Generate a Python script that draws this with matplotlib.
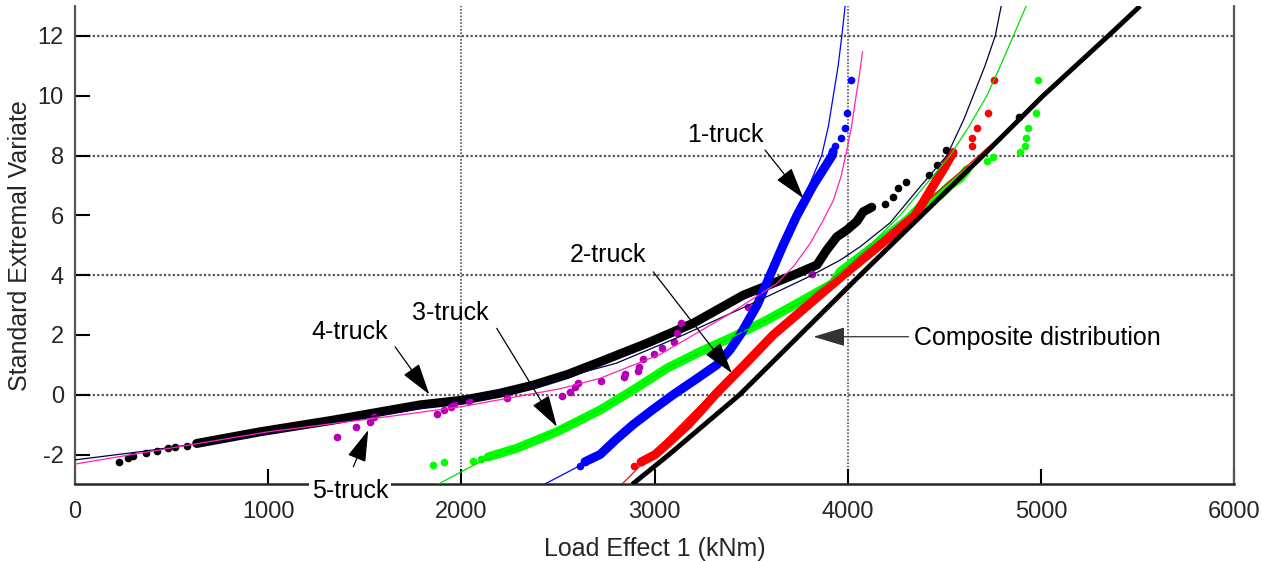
import matplotlib.pyplot as plt
import numpy as np

plt.rcParams['font.family'] = ['Liberation Sans', 'DejaVu Sans']
plt.rcParams['axes.unicode_minus'] = False

# 1-truck (blue): dense band + sparse tail, and fitted curve
truck1_x = [2640, 2718, 2800, 2889, 2990, 3096, 3210, 3322, 3390, 3443, 3531, 3598,
            3665, 3737, 3821, 3870, 3919, 3924]
truck1_y = [-2.24, -2.0, -1.5, -1.0, -0.5, 0.0, 0.5, 1.0, 1.5, 2.0, 3.0, 4.0,
            5.0, 6.0, 7.0, 7.5, 8.0, 8.13]
truck1_tail_x = [2614, 2640, 3934, 3966, 3986, 3998, 4017]
truck1_tail_y = [-2.37, -2.24, 8.33, 8.6, 8.92, 9.43, 10.52]
fit1_x = [2428, 2614, 2750, 2890, 3000, 3100, 3220, 3330, 3450, 3520, 3590, 3665,
          3730, 3800, 3865, 3900, 3925, 3950, 3969, 3986]
fit1_y = [-3, -2.37, -1.75, -1.0, -0.5, 0.0, 0.5, 1.0, 2.0, 3.0, 4.0, 5.0,
          6.0, 7.0, 8.0, 9.0, 10.0, 11.0, 12.0, 13.0]

# 2-truck (red)
truck2_x = [2930, 3003, 3090, 3174, 3245, 3313, 3465, 3614, 3795, 3976, 4165, 4349,
            4443, 4500, 4545]
truck2_y = [-2.25, -2.0, -1.5, -1.0, -0.5, 0.0, 1.0, 2.0, 3.0, 4.0, 5.0, 6.0,
            7.0, 7.6, 8.1]
truck2_tail_x = [2894, 2930, 4642, 4642, 4668, 4727, 4758]
truck2_tail_y = [-2.39, -2.25, 8.32, 8.57, 8.91, 9.43, 10.52]
fit2_x = [2830, 3290, 3630, 3990, 4380, 4789]
fit2_y = [-3, 0.0, 2.0, 4.0, 6.3, 8.63]

# 3-truck (green)
truck3_x = [2139, 2287, 2494, 2718, 2889, 3065, 3236, 3407, 3582, 3753, 3924,
            3960, 4131, 4306, 4409, 4478, 4530, 4582, 4616]
truck3_y = [-2.08, -1.79, -1.24, -0.51, 0.16, 0.89, 1.44, 1.94, 2.5, 3.11, 3.73,
            4.11, 4.95, 5.84, 6.51, 6.68, 7.01, 7.24, 7.52]
truck3_tail_x = [1852, 1911, 2059, 2102, 4720, 4753, 4892, 4918, 4923, 4932, 4975, 4982]
truck3_tail_y = [-2.36, -2.25, -2.21, -2.15, 7.83, 7.96, 8.13, 8.32, 8.57, 8.91, 9.43, 10.52]
fit3_x = [1877, 2080, 2300, 2720, 3070, 3410, 3760, 3950, 4100, 4271, 4400, 4530,
          4630, 4720, 4790, 4857, 4923]
fit3_y = [-3, -2.3, -1.75, -0.5, 0.9, 1.95, 3.1, 4.0, 4.9, 6.0, 7.0, 8.0,
          9.0, 10.0, 11.0, 12.0, 13.0]

# 4-truck (black)
truck4_x = [630, 958, 1336, 1786, 2009, 2200, 2371, 2550, 2718, 2960, 3200, 3459, 3718,
            3840, 3891, 3943, 3995, 4047, 4080, 4124]
truck4_y = [-1.63, -1.24, -0.85, -0.34, -0.18, 0.05, 0.32, 0.68, 1.1, 1.72, 2.39, 3.33,
            4.0, 4.34, 4.84, 5.28, 5.51, 5.8, 6.12, 6.27]
truck4_tail_x = [228, 276, 299, 368, 423, 483, 518, 578, 630, 4193, 4235, 4261, 4300,
                 4421, 4461, 4509, 4887]
truck4_tail_y = [-2.26, -2.13, -2.05, -1.96, -1.87, -1.79, -1.74, -1.72, -1.63, 6.38,
                 6.62, 6.9, 7.1, 7.35, 7.68, 8.2, 9.3]
fit4_x = [0, 345, 1000, 1800, 2400, 2800, 3115, 3546, 3800, 3960, 4064, 4219, 4380,
          4513, 4600, 4649, 4710, 4763, 4794]
fit4_y = [-2.18, -1.9, -1.3, -0.45, 0.35, 1.05, 1.9, 3.17, 3.95, 4.5, 4.95, 5.75, 7.0,
          8.0, 9.2, 10.0, 11.0, 12.0, 13.0]

# 5-truck (purple points, pink fit)
truck5_x = [1355, 1455, 1527, 1550, 1876, 1911, 1945, 1962, 2038, 2238, 2520, 2563,
            2589, 2601, 2723, 2842, 2847, 2913, 2921, 2939, 2999, 3037, 3102, 3115,
            3137, 3482, 3814]
truck5_y = [-1.4, -1.09, -0.9, -0.76, -0.63, -0.51, -0.42, -0.31, -0.2, -0.12, -0.03,
            0.1, 0.25, 0.38, 0.46, 0.6, 0.68, 0.8, 0.94, 1.19, 1.36, 1.55, 1.77, 2.05,
            2.39, 2.94, 4.04]
fit5_x = [0, 1000, 1683, 2000, 2511, 2718, 3029, 3374, 3633, 3720, 3805, 3870, 3926,
          3965, 3995, 4020, 4043, 4060, 4076]
fit5_y = [-2.32, -1.24, -0.68, -0.4, 0.2, 0.55, 1.35, 2.65, 3.72, 4.3, 5.06, 5.8, 6.51,
          7.3, 8.18, 9.0, 10.0, 10.7, 11.47]

# composite distribution
comp_x = [2884, 3075, 3440, 4064, 4700, 5011, 5348, 5513]
comp_y = [-3, -2.0, 0.0, 4.0, 8.0, 10.0, 12.0, 13.0]

fig = plt.figure(figsize=(12.62, 5.61), dpi=100)
ax = fig.add_axes([0.0594, 0.1365, 0.9186, 0.8528])

grid_kw = dict(color='#555555', linestyle=(0, (1, 1)), linewidth=1.6, zorder=0)
for yv in [0, 4, 8, 12]:
    ax.axhline(yv, **grid_kw)
for xv in [2000, 4000]:
    ax.axvline(xv, color='#555555', linestyle=(0, (1, 1)), linewidth=1.2, zorder=0)

dense_kw = dict(linewidth=6.5, solid_capstyle='round', solid_joinstyle='round')
dot_kw = dict(linestyle='none', marker='o', markersize=4.5)

ax.plot(fit4_x, fit4_y, color='#000040', linewidth=0.9, zorder=3)
ax.plot(truck4_x, truck4_y, color='black', zorder=2, **dense_kw)
ax.plot(truck4_tail_x, truck4_tail_y, color='black', zorder=2, **dot_kw)

ax.plot(truck5_x, truck5_y, color='#b300b3', zorder=2, **dot_kw)
ax.plot(fit5_x, fit5_y, color='#ff22bb', linewidth=0.9, zorder=3)

ax.plot(truck3_x, truck3_y, color='#00ff00', zorder=2, **dense_kw)
ax.plot(truck3_tail_x, truck3_tail_y, color='#00ff00', zorder=2, **dot_kw)
ax.plot(fit3_x, fit3_y, color='#00dd00', linewidth=0.9, zorder=3)

ax.plot(truck1_x, truck1_y, color='#0000ff', zorder=2, **dense_kw)
ax.plot(truck1_tail_x, truck1_tail_y, color='#0000ff', zorder=2, **dot_kw)
ax.plot(fit1_x, fit1_y, color='#0000ff', linewidth=0.9, zorder=3)

ax.plot(truck2_x, truck2_y, color='#ff0000', zorder=2, **dense_kw)
ax.plot(truck2_tail_x, truck2_tail_y, color='#ff0000', zorder=2, **dot_kw)
ax.plot(fit2_x, fit2_y, color='#ff0000', linewidth=0.9, zorder=3)

ax.plot(comp_x, comp_y, color='black', linewidth=3.5, solid_capstyle='butt', zorder=4)

ax.set_xlim(0, 6000)
ax.set_ylim(-3, 13)
ax.set_xticks(np.arange(0, 6001, 1000))
ax.set_yticks(np.arange(-2, 13, 2))
ax.tick_params(direction='in', length=11, width=1.5, labelsize=17,
               labelcolor='#262626')
ax.tick_params(axis='x', pad=12)
ax.tick_params(axis='y', pad=8)
ax.spines['top'].set_visible(False)
for side in ['left', 'right']:
    ax.spines[side].set_color('#555555')
    ax.spines[side].set_linestyle((0, (1, 1)))
    ax.spines[side].set_linewidth(1.6)
ax.spines['bottom'].set_color('#262626')
ax.spines['bottom'].set_linewidth(1.8)

ax.set_xlabel('Load Effect 1 (kNm)', fontsize=18, color='#262626', labelpad=10)
ax.set_ylabel('Standard Extremal Variate', fontsize=18, color='#262626', labelpad=4)

arrow = dict(arrowstyle='-|>,head_length=2.0,head_width=0.6', color='black',
             linewidth=0.9, shrinkA=0, shrinkB=0)
ax.annotate('', xy=(3770, 6.57), xytext=(3572, 8.18), arrowprops=arrow, zorder=6)
ax.text(3365, 8.69, '1-truck', fontsize=18, ha='center', va='center', zorder=6)

ax.annotate('', xy=(3400, 0.72), xytext=(2993, 4.11), arrowprops=arrow, zorder=6)
ax.text(2760, 4.67, '2-truck', fontsize=18, ha='center', va='center', zorder=6)

ax.annotate('', xy=(2494, -1.07), xytext=(2183, 2.22), arrowprops=arrow, zorder=6)
ax.text(1941, 2.72, '3-truck', fontsize=18, ha='center', va='center', zorder=6)

ax.annotate('', xy=(1834, 0.01), xytext=(1657, 1.6), arrowprops=arrow, zorder=6)
ax.text(1424, 2.11, '4-truck', fontsize=18, ha='center', va='center', zorder=6)

ax.annotate('', xy=(1518, -1.18), xytext=(1441, -2.41), arrowprops=arrow, zorder=6)
ax.text(1424, -3.21, '5-truck', fontsize=18, ha='center', va='center', zorder=6,
        clip_on=False, bbox=dict(facecolor='white', edgecolor='none', pad=2))

ax.annotate('', xy=(3822, 1.94), xytext=(4314, 1.94),
            arrowprops=dict(arrow, color='#333333'), zorder=6)
ax.text(4345, 1.89, 'Composite distribution', fontsize=18, ha='left', va='center',
        zorder=6)

fig.savefig('out.png', dpi=100)
